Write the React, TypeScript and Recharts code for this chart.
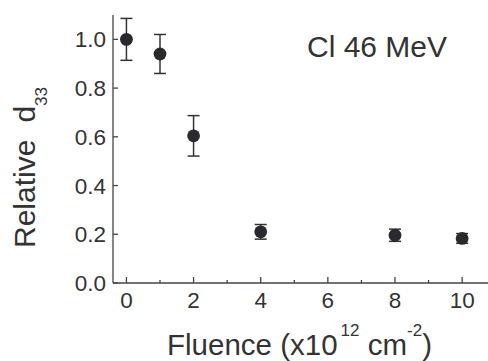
import React from 'react';
import { ScatterChart, Scatter, XAxis, YAxis, ErrorBar } from 'recharts';

// relative d33 vs fluence (x10^12 cm^-2), Cl 46 MeV
const fluence = [0, 1, 2, 4, 8, 10];
const relD33 = [1.0, 0.94, 0.604, 0.21, 0.196, 0.183];
const relD33Err = [0.086, 0.08, 0.083, 0.03, 0.025, 0.02];

const xTicks = [0, 1, 2, 3, 4, 5, 6, 7, 8, 9, 10];
const yTicks = [0, 0.2, 0.4, 0.6, 0.8, 1.0];

const data = fluence.map((f, i) => ({ x: f, y: relD33[i], err: relD33Err[i] }));

const FONT = '"Liberation Sans", Arial, Helvetica, sans-serif';
const AXIS = '#444';
const INK = '#333';

const BottomTick = (props: any) => {
  const { x, y, payload } = props;
  const major = payload.value % 2 === 0;
  return (
    <g>
      <line x1={x} x2={x} y1={y} y2={y - (major ? 6 : 3)} stroke={AXIS} strokeWidth={1.3} />
      {major && (
        <text x={x} y={y + 25} textAnchor="middle" fontSize={22.5} fontFamily={FONT} fill={INK}>
          {payload.value}
        </text>
      )}
    </g>
  );
};

const TopTick = (props: any) => {
  const { x, y, payload } = props;
  const major = payload.value % 2 === 0;
  return <line x1={x} x2={x} y1={y} y2={y + (major ? 5 : 3)} stroke={AXIS} strokeWidth={1.3} />;
};

const LeftTick = (props: any) => {
  const { x, y, payload } = props;
  return (
    <g>
      <line x1={x} x2={x + 5} y1={y} y2={y} stroke={AXIS} strokeWidth={1.3} />
      <text x={x - 7} y={y + 8} textAnchor="end" fontSize={22.5} fontFamily={FONT} fill={INK}>
        {payload.value.toFixed(1)}
      </text>
    </g>
  );
};

const Dot = (props: any) => <circle cx={props.cx} cy={props.cy} r={6.4} fill="#2a2a2e" />;

export default function App() {
  return (
    <div style={{ position: 'absolute', left: 0, top: 0, width: 488, height: 361, overflow: 'hidden', background: '#fff' }}>
      <ScatterChart width={489} height={361} margin={{ top: 15, right: 0, bottom: 0, left: 0 }}>
        <XAxis
          dataKey="x"
          type="number"
          domain={[-0.4, 10.8]}
          allowDataOverflow
          ticks={xTicks}
          height={78}
          tickSize={0}
          tickMargin={0}
          tickLine={false}
          axisLine={{ stroke: AXIS, strokeWidth: 1.3 }}
          tick={BottomTick}
          interval={0}
        />
        <XAxis
          xAxisId="top"
          orientation="top"
          type="number"
          domain={[-0.4, 10.8]}
          allowDataOverflow
          ticks={xTicks}
          height={0}
          tickSize={0}
          tickMargin={0}
          tickLine={false}
          axisLine={{ stroke: AXIS, strokeWidth: 1.3 }}
          tick={TopTick}
          interval={0}
        />
        <YAxis
          dataKey="y"
          type="number"
          domain={[0, 1.1]}
          allowDataOverflow
          ticks={yTicks}
          width={113}
          tickSize={0}
          tickMargin={0}
          tickLine={false}
          axisLine={{ stroke: AXIS, strokeWidth: 1.3 }}
          tick={LeftTick}
          interval={0}
        />
        <Scatter data={data} shape={Dot} isAnimationActive={false}>
          <ErrorBar dataKey="err" direction="y" width={6} stroke={INK} strokeWidth={1.5} isAnimationActive={false} />
        </Scatter>
      </ScatterChart>
      <svg width={488} height={361} style={{ position: 'absolute', left: 0, top: 0, pointerEvents: 'none' }}>
        <text x={307} y={57} fontSize={30} fontFamily={FONT} fill={INK}>Cl 46 MeV</text>
        <text x={167} y={354.5} fontSize={29.5} fontFamily={FONT} fill={INK}>
          Fluence (x10
          <tspan dx={3} dy={-19} fontSize={17}>12</tspan>
          <tspan dy={19}> cm</tspan>
          <tspan dy={-19} fontSize={17}>-2</tspan>
          <tspan dy={19}>)</tspan>
        </text>
        <text transform="translate(35,248) rotate(-90)" fontSize={30} fontFamily={FONT} fill={INK}>
          Relative
          <tspan dx={17}>d</tspan>
          <tspan dy={12} fontSize={17}>33</tspan>
        </text>
      </svg>
    </div>
  );
}
